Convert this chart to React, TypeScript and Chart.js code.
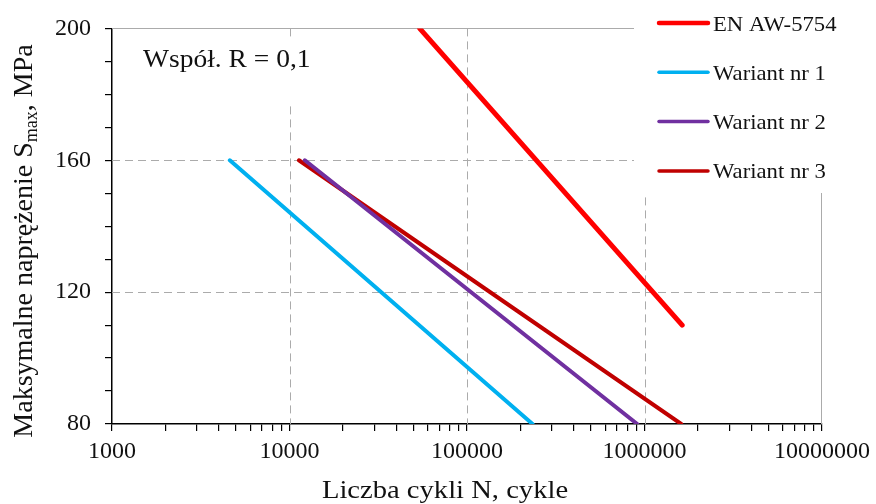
import { useEffect, useRef } from "react";
import { Chart, registerables } from "chart.js";

Chart.register(...registerables);

// Series definitions: S-N lines (number of cycles vs. maximum stress)
const seriesNames = ["EN AW-5754", "Wariant nr 1", "Wariant nr 2", "Wariant nr 3"];
const seriesColors = ["#FF0000", "#00B0F0", "#7030A0", "#C00000"];
const seriesWidths = [5, 4, 4, 4];

const cyclesEnAw5754 = [54100, 1630000];
const stressEnAw5754 = [200, 110];
const cyclesWariant1 = [4610, 234000];
const stressWariant1 = [160, 80];
const cyclesWariant2 = [12200, 910000];
const stressWariant2 = [160, 80];
const cyclesWariant3 = [11300, 1610000];
const stressWariant3 = [160, 80];

const seriesCycles = [cyclesEnAw5754, cyclesWariant1, cyclesWariant2, cyclesWariant3];
const seriesStress = [stressEnAw5754, stressWariant1, stressWariant2, stressWariant3];

// Axes
const xMin = 1000;
const xMax = 10000000;
const yMin = 80;
const yMax = 200;
const yStep = 10;
const yLabelStep = 40;
const xGridValues = [10000, 100000, 1000000];
const yGridValues = [120, 160];

// Texts
const annotationText = "Współ. R = 0,1";
const xTitle = "Liczba cykli N, cykle";
const yTitleMain = "Maksymalne naprężenie S";
const yTitleSub = "max";
const yTitleTail = ", MPa";

const SERIF = "'Liberation Serif', 'Times New Roman', serif";
const GRID = "#ABABAB";
const TEXT = "#111111";

function drawStretched(
  ctx: CanvasRenderingContext2D,
  text: string,
  x: number,
  y: number,
  size: number,
  sx: number,
  align: "left" | "center" = "left"
) {
  ctx.save();
  ctx.font = `${size}px ${SERIF}`;
  ctx.textBaseline = "alphabetic";
  ctx.textAlign = "left";
  const w = ctx.measureText(text).width * sx;
  const startX = align === "center" ? x - w / 2 : x;
  ctx.translate(startX, y);
  ctx.scale(sx, 1);
  ctx.fillText(text, 0, 0);
  ctx.restore();
}

const decorPlugin = {
  id: "snDecor",
  beforeDatasetsDraw(chart: any) {
    const { ctx, chartArea: a, scales } = chart;
    const x = scales.x;
    const y = scales.y;
    const legendLeft = 634;
    const legendBottom = 193;
    ctx.save();
    ctx.strokeStyle = GRID;
    ctx.lineWidth = 1;
    // solid frame lines at the top and right of the plot
    ctx.beginPath();
    ctx.moveTo(a.left, Math.round(a.top) + 0.5);
    ctx.lineTo(legendLeft, Math.round(a.top) + 0.5);
    ctx.moveTo(Math.round(a.right) - 0.5, legendBottom);
    ctx.lineTo(Math.round(a.right) - 0.5, a.bottom);
    ctx.stroke();
    // dashed major grid
    ctx.setLineDash([8, 5]);
    ctx.beginPath();
    for (const v of xGridValues) {
      const px = Math.round(x.getPixelForValue(v)) + 0.5;
      ctx.moveTo(px, a.top);
      ctx.lineTo(px, a.bottom);
    }
    for (const v of yGridValues) {
      const py = Math.round(y.getPixelForValue(v)) + 0.5;
      ctx.moveTo(a.left, py);
      ctx.lineTo(a.right, py);
    }
    ctx.stroke();
    ctx.setLineDash([]);
    // white backgrounds of the legend and the annotation box
    ctx.fillStyle = "#ffffff";
    ctx.fillRect(legendLeft, 0, chart.width - legendLeft, legendBottom);
    ctx.fillRect(132, 38, 190, 66);
    ctx.restore();
  },
  afterDraw(chart: any) {
    const { ctx } = chart;
    ctx.save();
    ctx.fillStyle = TEXT;

    // legend
    const rowTop = 23;
    const rowGap = 49.3;
    chart.data.datasets.forEach((ds: any, i: number) => {
      const ly = rowTop + i * rowGap;
      ctx.save();
      ctx.strokeStyle = ds.borderColor;
      ctx.lineWidth = i === 0 ? 4.5 : 3.5;
      ctx.lineCap = "round";
      ctx.beginPath();
      ctx.moveTo(659, ly);
      ctx.lineTo(708, ly);
      ctx.stroke();
      ctx.restore();
      drawStretched(ctx, ds.label, 713, ly + 7.5, 21, 1.08);
    });

    // annotation
    drawStretched(ctx, annotationText, 143, 67, 25, 1.1);

    // x axis title
    drawStretched(ctx, xTitle, 445, 498, 26, 1.1, "center");

    // y axis title with subscript
    const mainSize = 28;
    const subSize = 18;
    ctx.font = `${mainSize}px ${SERIF}`;
    const w1 = ctx.measureText(yTitleMain).width;
    const w3 = ctx.measureText(yTitleTail).width;
    ctx.font = `${subSize}px ${SERIF}`;
    const w2 = ctx.measureText(yTitleSub).width;
    const total = w1 + w2 + w3;
    ctx.translate(32, 241);
    ctx.rotate(-Math.PI / 2);
    ctx.textBaseline = "alphabetic";
    ctx.textAlign = "left";
    let cx = -total / 2;
    ctx.font = `${mainSize}px ${SERIF}`;
    ctx.fillText(yTitleMain, cx, 0);
    cx += w1;
    ctx.font = `${subSize}px ${SERIF}`;
    ctx.fillText(yTitleSub, cx, 5);
    cx += w2;
    ctx.font = `${mainSize}px ${SERIF}`;
    ctx.fillText(yTitleTail, cx, 0);
    ctx.restore();
  },
};

function isPowerOfTen(v: number) {
  const l = Math.log10(v);
  return Math.abs(l - Math.round(l)) < 1e-9;
}

export default function App() {
  const canvasRef = useRef<HTMLCanvasElement | null>(null);

  useEffect(() => {
    const canvas = canvasRef.current;
    if (!canvas) return;

    const datasets = seriesNames.map((name, i) => ({
      label: name,
      data: seriesCycles[i].map((n, j) => ({ x: n, y: seriesStress[i][j] })),
      borderColor: seriesColors[i],
      backgroundColor: seriesColors[i],
      borderWidth: seriesWidths[i],
      borderCapStyle: "round" as const,
      showLine: true,
      pointRadius: 0,
      pointHoverRadius: 0,
      fill: false,
    }));

    const chart = new Chart(canvas, {
      type: "scatter",
      data: { datasets },
      options: {
        animation: false,
        responsive: false,
        devicePixelRatio: 1,
        layout: { padding: { top: 27, right: 53, left: 0, bottom: 0 } },
        plugins: {
          legend: { display: false },
          tooltip: { enabled: false },
          title: { display: false },
        },
        scales: {
          x: {
            type: "logarithmic",
            min: xMin,
            max: xMax,
            afterBuildTicks: (scale: any) => {
              const ticks: { value: number; major?: boolean }[] = [];
              for (let d = xMin; d < xMax; d *= 10) {
                for (let m = 1; m <= 9; m++) ticks.push({ value: d * m });
              }
              ticks.push({ value: xMax });
              scale.ticks = ticks;
            },
            afterFit: (scale: any) => {
              scale.height = 80;
            },
            border: { display: true, color: "#000000", width: 1.5 },
            grid: {
              drawOnChartArea: false,
              drawTicks: true,
              tickLength: 7,
              color: "#000000",
              lineWidth: 1.2,
            },
            ticks: {
              autoSkip: false,
              maxRotation: 0,
              minRotation: 0,
              padding: 6,
              color: TEXT,
              font: { family: SERIF, size: 24 },
              callback: (v: any) => (isPowerOfTen(Number(v)) ? String(Math.round(Number(v))) : ""),
            },
          },
          y: {
            type: "linear",
            min: yMin,
            max: yMax,
            afterFit: (scale: any) => {
              scale.width = 112;
            },
            border: { display: true, color: "#000000", width: 1.5 },
            grid: {
              drawOnChartArea: false,
              drawTicks: true,
              tickLength: 7,
              color: "#000000",
              lineWidth: 1.2,
            },
            ticks: {
              stepSize: yStep,
              autoSkip: false,
              padding: 14,
              color: TEXT,
              font: { family: SERIF, size: 24 },
              callback: (v: any) => (Number(v) % yLabelStep === 0 ? String(v) : ""),
            },
          },
        },
      },
      plugins: [decorPlugin],
    });

    return () => chart.destroy();
  }, []);

  return (
    <div style={{ position: "fixed", left: 0, top: 0, width: 876, height: 504, background: "#ffffff" }}>
      <canvas ref={canvasRef} width={876} height={504} style={{ display: "block" }} />
    </div>
  );
}
